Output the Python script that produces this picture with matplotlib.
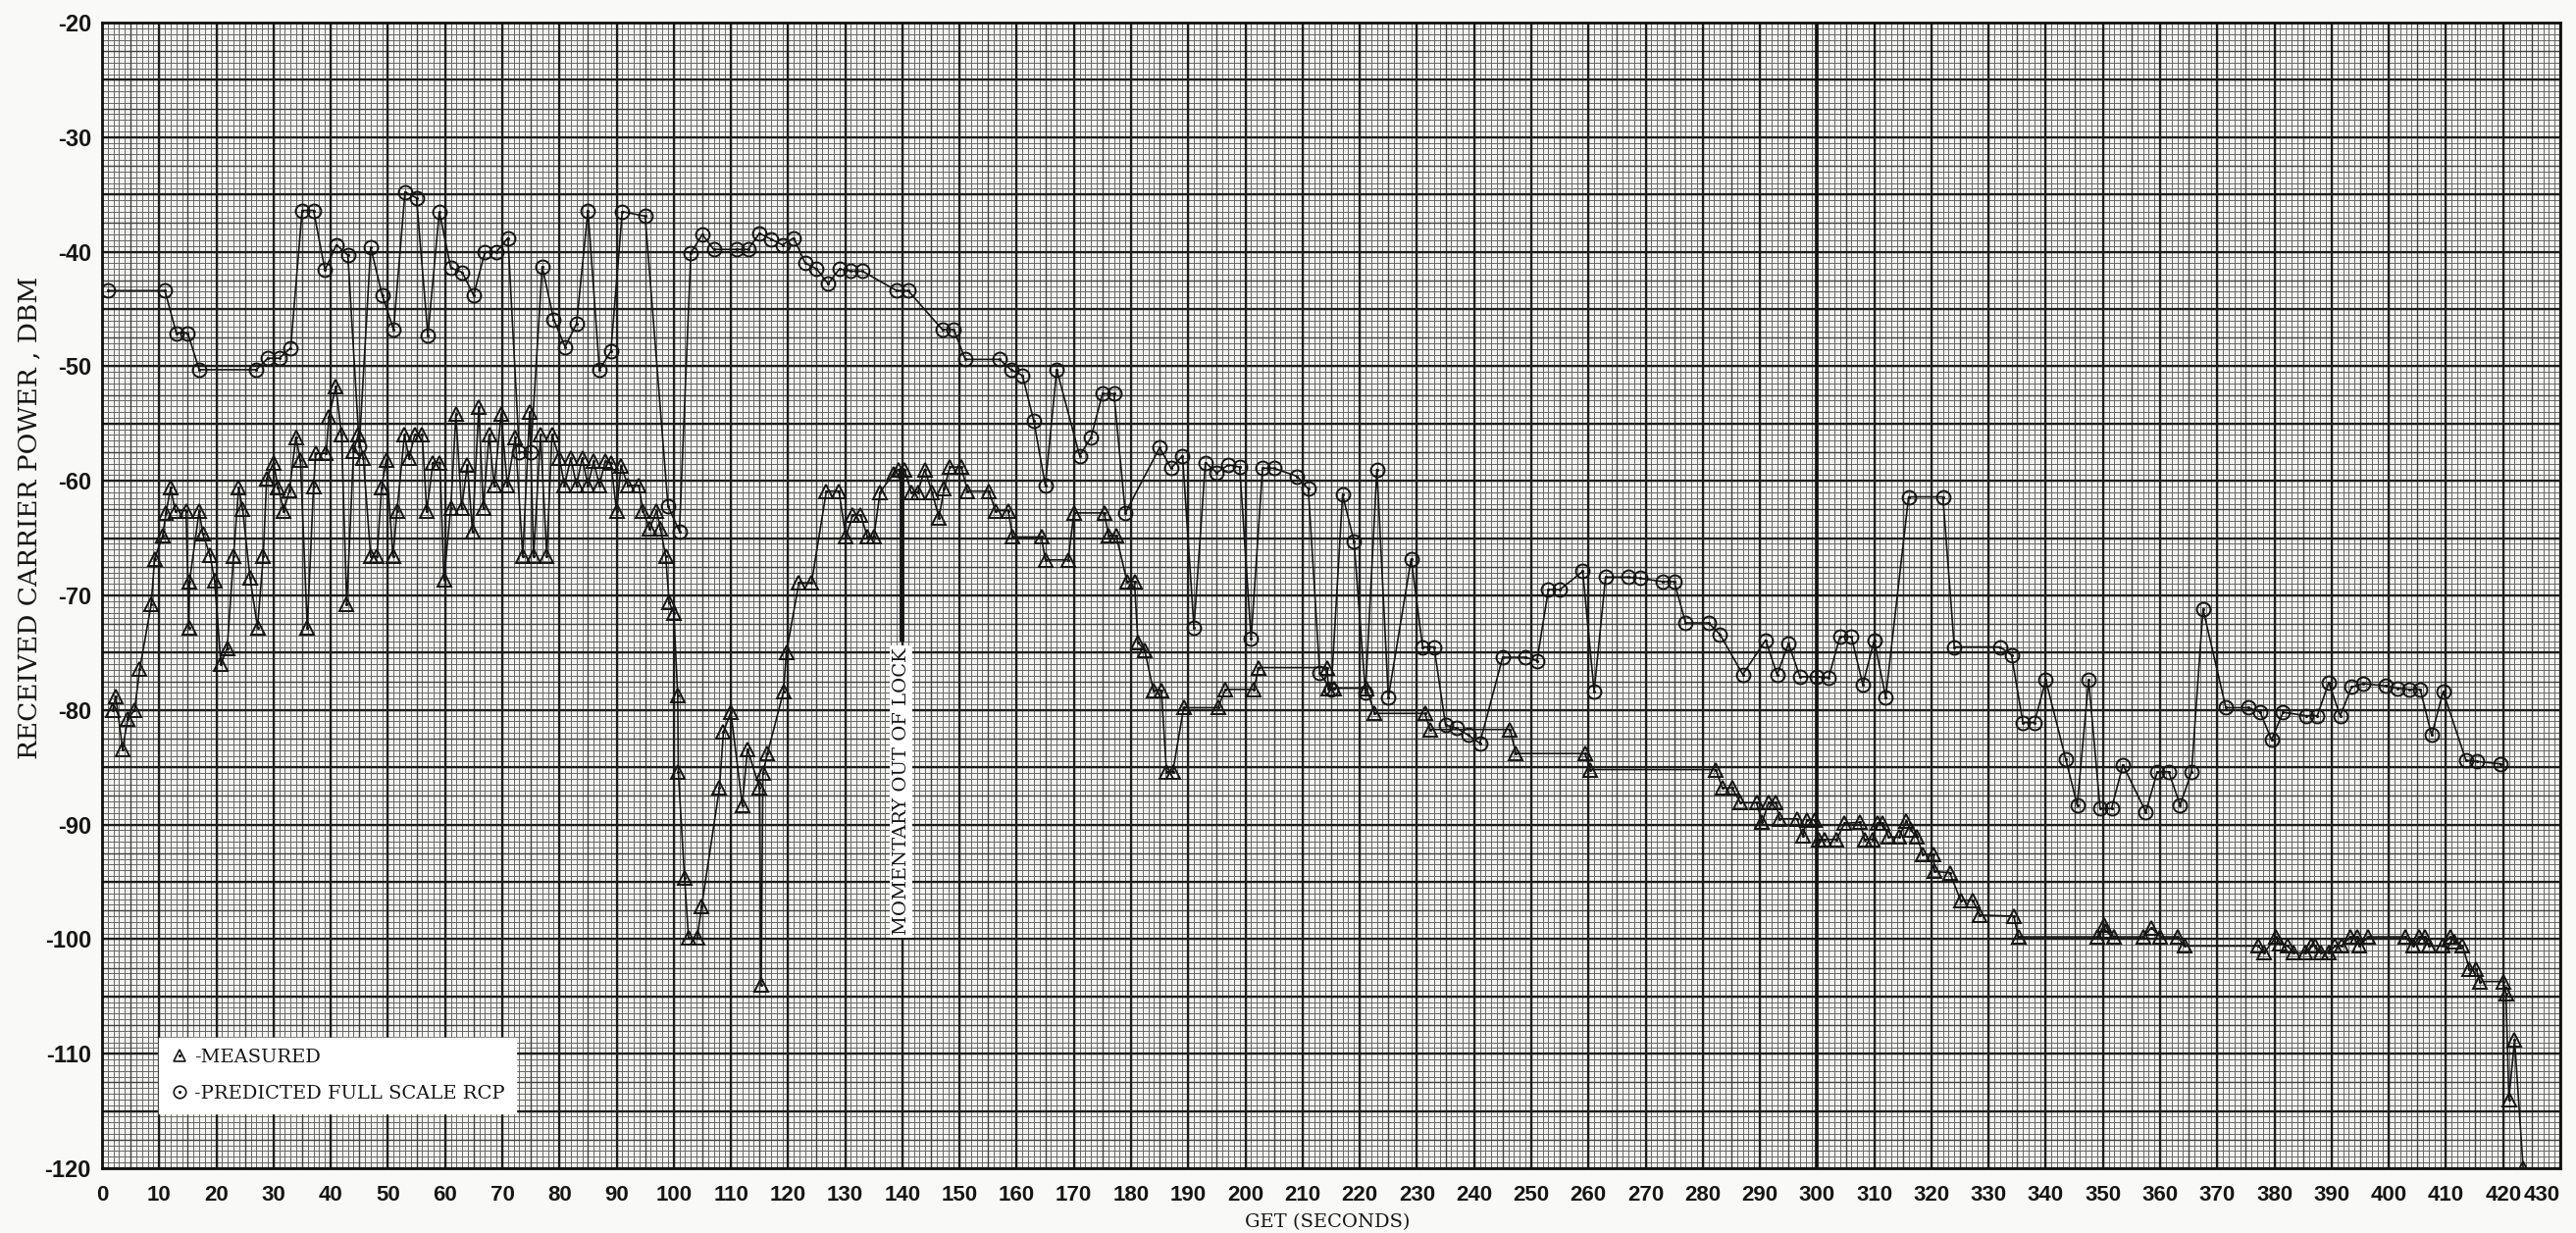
import numpy as np
import matplotlib
matplotlib.use("Agg")
import matplotlib.pyplot as plt
import matplotlib.transforms as mtransforms
from matplotlib.lines import Line2D
from matplotlib.legend_handler import HandlerTuple

# ---- data (GET seconds, dBm) ----
measured_t = [
    1.9, 2.4, 3.6, 4.5, 5.7, 6.6, 8.6, 9.2, 10.6, 11.2, 12.0, 12.8, 14.7, 15.2, 15.3,
    17.0, 17.6, 18.9, 19.7, 20.8, 21.9, 23.0, 23.9, 24.6, 25.9, 27.2, 28.2, 28.8, 30.0,
    30.8, 31.8, 32.8, 33.9, 34.7, 35.9, 37.0, 37.4, 39.2, 39.7, 40.9, 41.9, 42.8, 44.0,
    44.8, 45.7, 47.0, 48.1, 48.9, 49.7, 50.9, 51.6, 52.9, 53.7, 54.7, 56.0, 56.8, 57.9,
    59.1, 59.8, 61.0, 61.9, 62.9, 63.9, 64.8, 65.9, 66.7, 67.7, 68.6, 69.8, 70.9, 72.3,
    73.6, 74.8, 75.5, 76.7, 77.8, 78.7, 80.0, 80.9, 82.0, 83.0, 84.0, 85.0, 86.0, 87.0,
    88.0, 89.0, 90.0, 90.8, 92.0, 93.9, 94.6, 95.8, 97.0, 97.7, 98.6, 99.2, 100.0,
    100.7, 100.8, 101.9, 102.6, 104.1, 104.9, 108.0, 108.7, 110.0, 112.0, 112.9, 115.0,
    115.3, 115.6, 116.4, 119.2, 119.7, 121.9, 124.1, 126.7, 128.9, 130.1, 131.3, 132.7,
    133.9, 135.0, 136.1, 138.4, 139.3, 140.4, 141.5, 142.7, 143.9, 145.2, 146.4, 147.3,
    148.3, 150.3, 151.4, 155.1, 156.3, 158.5, 159.3, 164.3, 165.0, 169.0, 170.0, 175.3,
    176.1, 177.4, 179.3, 180.6, 181.2, 182.4, 183.9, 185.3, 186.2, 187.3, 189.2, 195.2,
    196.5, 201.5, 202.3, 214.3, 214.5, 215.5, 221.2, 222.6, 231.4, 232.3, 246.3, 247.3,
    259.4, 260.3, 282.3, 283.4, 285.1, 286.6, 289.4, 290.4, 291.5, 292.8, 293.4, 296.5,
    297.5, 298.2, 299.6, 300.3, 301.3, 303.4, 304.8, 307.5, 308.3, 309.7, 310.5, 311.5,
    312.5, 314.3, 315.6, 316.4, 317.5, 318.5, 320.4, 320.5, 323.2, 325.1, 327.2, 328.5,
    334.4, 335.2, 349.0, 350.2, 350.4, 352.0, 357.0, 358.5, 360.0, 363.1, 364.2, 377.2,
    378.2, 380.3, 381.0, 382.3, 383.4, 385.4, 386.4, 387.1, 388.2, 389.5, 390.6, 391.7,
    393.3, 394.5, 394.9, 396.4, 402.9, 404.3, 405.3, 406.3, 407.0, 409.4, 410.7, 411.5,
    412.9, 414.1, 415.3, 415.9, 420.0, 420.5, 421.0, 422.0, 423.5,
]
measured_dbm = [
    -80.0, -78.8, -83.4, -80.8, -80.0, -76.4, -70.8, -66.8, -64.8, -62.8, -60.6, -62.6, -62.6, -72.8, -68.8,
    -62.6, -64.6, -66.5, -68.7, -76.0, -74.6, -66.6, -60.6, -62.5, -68.5, -72.8, -66.6, -59.8, -58.4,
    -60.6, -62.6, -60.8, -56.2, -58.2, -72.8, -60.5, -57.6, -57.6, -54.4, -51.8, -56.0, -70.8, -57.4,
    -56.0, -58.0, -66.6, -66.6, -60.6, -58.2, -66.6, -62.6, -56.0, -58.0, -56.0, -56.0, -62.6, -58.4,
    -58.4, -68.6, -62.4, -54.2, -62.4, -58.6, -64.4, -53.6, -62.4, -56.0, -60.4, -54.2, -60.4, -56.2,
    -66.6, -54.0, -66.6, -56.0, -66.6, -56.0, -58.0, -60.4, -58.0, -60.4, -58.0, -60.4, -58.3, -60.4,
    -58.3, -58.4, -62.6, -58.7, -60.4, -60.4, -62.6, -64.2, -62.6, -64.2, -66.6, -70.6, -71.5,
    -78.7, -85.4, -94.7, -99.9, -99.9, -97.1, -86.8, -81.9, -80.2, -88.3, -83.4, -86.8,
    -104.0, -85.5, -83.8, -78.4, -75.0, -68.9, -68.9, -60.9, -60.9, -64.9, -63.0, -63.0,
    -64.9, -64.9, -61.0, -59.4, -59.0, -59.0, -61.0, -61.0, -59.0, -61.0, -63.2, -60.7,
    -58.8, -58.8, -60.9, -60.9, -62.6, -62.6, -64.9, -64.9, -66.9, -66.9, -62.8, -62.8,
    -64.8, -64.8, -68.8, -68.8, -74.1, -74.8, -78.3, -78.3, -85.4, -85.4, -79.8, -79.8,
    -78.2, -78.2, -76.3, -76.3, -78.1, -78.1, -78.1, -80.3, -80.3, -81.7, -81.7, -83.8,
    -83.8, -85.2, -85.2, -86.8, -86.8, -88.1, -88.1, -89.8, -88.1, -88.1, -89.5, -89.5,
    -91.0, -89.6, -89.6, -91.3, -91.3, -91.3, -89.9, -89.8, -91.3, -91.3, -89.9, -89.9,
    -91.1, -91.1, -89.7, -90.5, -91.1, -92.6, -92.6, -94.1, -94.2, -96.6, -96.6, -97.9,
    -98.0, -99.8, -99.8, -98.8, -99.3, -99.8, -99.8, -99.0, -99.8, -99.8, -100.6, -100.6,
    -101.2, -99.8, -100.4, -100.6, -101.2, -101.2, -100.6, -100.6, -101.2, -101.2, -100.6, -100.6,
    -99.8, -99.8, -100.6, -99.8, -99.8, -100.6, -99.8, -99.8, -100.6, -100.6, -99.8, -100.2,
    -100.6, -102.6, -102.6, -103.7, -103.7, -104.8, -114.0, -108.8, -120.0,
]

predicted_t = [
    1, 11, 13, 15, 17, 27, 29, 31, 33, 35, 37, 39, 41, 43, 45, 47, 49, 51, 53, 55,
    57, 59, 61, 63, 65, 67, 69, 71, 73, 75, 77, 79, 81, 83, 85, 87, 89, 91, 95, 99,
    101, 103, 105, 107, 111, 113, 115, 117, 119, 121, 123, 125, 127, 129, 131, 133, 139, 141, 147, 149,
    151, 157, 159, 161, 163, 165, 167, 171, 173, 175, 177, 179, 185, 187, 189, 191, 193, 195, 197, 199,
    201, 203, 205, 209, 211, 213, 215, 217, 219, 221, 223, 225, 229, 231, 233, 235, 237, 239, 241, 245,
    249, 251, 253, 255, 259, 261, 263, 267, 269, 273, 275, 277, 281, 283, 287, 291, 293, 295, 297, 300,
    302, 304, 306, 308, 310, 312, 316, 322, 324, 332, 334, 336, 338, 340, 343.5, 345.5, 347.5, 349.5,
    351.5, 353.5, 357.5, 359.5, 361.5, 363.5, 365.5, 367.5, 371.5, 375.5, 377.5, 379.5, 381.5, 385.5,
    387.5, 389.5, 391.5, 393.5, 395.5, 399.5, 401.5, 403.5, 405.5, 407.5, 409.5, 413.5, 415.5, 419.5,
]
predicted_dbm = [
    -43.4, -43.4, -47.1, -47.1, -50.3, -50.3, -49.3, -49.3, -48.4, -36.4, -36.4, -41.6, -39.4, -40.3, -57.0, -39.6, -43.8, -46.8, -34.8, -35.3,
    -47.3, -36.5, -41.4, -41.8, -43.8, -40.0, -40.0, -38.8, -57.5, -57.5, -41.3, -45.9, -48.3, -46.3, -36.4, -50.3, -48.7, -36.5, -36.9, -62.2,
    -64.4, -40.1, -38.5, -39.8, -39.8, -39.8, -38.4, -38.9, -39.4, -38.8, -41.0, -41.5, -42.8, -41.5, -41.7, -41.7, -43.4, -43.4, -46.8, -46.8,
    -49.4, -49.4, -50.3, -50.8, -54.8, -60.4, -50.3, -57.8, -56.2, -52.4, -52.4, -62.8, -57.1, -58.9, -57.8, -72.8, -58.4, -59.3, -58.6, -58.8,
    -73.8, -58.9, -58.9, -59.6, -60.7, -76.8, -78.2, -61.2, -65.3, -78.5, -59.0, -78.9, -66.8, -74.5, -74.5, -81.3, -81.6, -82.2, -82.9, -75.4,
    -75.4, -75.7, -69.5, -69.5, -67.9, -78.4, -68.4, -68.4, -68.5, -68.8, -68.8, -72.4, -72.4, -73.4, -76.9, -73.9, -76.9, -74.2, -77.1, -77.1,
    -77.2, -73.6, -73.6, -77.8, -73.9, -78.9, -61.4, -61.4, -74.5, -74.5, -75.2, -81.1, -81.1, -77.4, -84.3, -88.3, -77.4, -88.6,
    -88.6, -84.8, -88.9, -85.4, -85.4, -88.3, -85.4, -71.2, -79.8, -79.8, -80.2, -82.6, -80.2, -80.5,
    -80.5, -77.6, -80.5, -78.0, -77.7, -77.9, -78.1, -78.2, -78.2, -82.2, -78.4, -84.4, -84.5, -84.7,
]

x_ticks = list(range(0, 431, 10))
y_ticks = list(range(-120, -19, 10))
lock_t, lock_top, lock_bottom = 139.8, -59.0, -73.8

W, H = 2626, 1257
fig = plt.figure(figsize=(W / 100, H / 100), dpi=100, facecolor="#f9f9f7")
ax = fig.add_axes([104 / W, 1 - 1191 / H, 2506 / W, 1168 / H])
ax.set_facecolor("#f4f4f0")
ax.set_xlim(0, 430)
ax.set_ylim(-120, -20)


# graph-paper grid
def vgrid(step, lw, col):
    ax.vlines(np.arange(0, 430.01, step), -120, -20, colors=col, linewidth=lw, zorder=0.5)


def hgrid(step, lw, col):
    ax.hlines(np.arange(-120, -19.99, step), 0, 430, colors=col, linewidth=lw, zorder=0.5)


vgrid(1, 0.7, "#666666")
hgrid(0.5, 0.7, "#666666")
vgrid(5, 1.0, "#404040")
hgrid(2.5, 1.0, "#404040")
vgrid(10, 1.6, "#1c1c1c")
hgrid(5, 1.6, "#1c1c1c")
ax.axvline(300, color="#111111", linewidth=2.6, zorder=0.6)

ink = "#151515"
ax.plot(measured_t, measured_dbm, color=ink, linewidth=1.2, zorder=3)
ax.plot(predicted_t, predicted_dbm, color=ink, linewidth=1.2, zorder=3)
ax.plot(measured_t, measured_dbm, linestyle="none", marker="^", markersize=10,
        markerfacecolor="none", markeredgecolor=ink, markeredgewidth=1.4, zorder=4)
ax.plot(predicted_t, predicted_dbm, linestyle="none", marker="o", markersize=10,
        markerfacecolor="none", markeredgecolor=ink, markeredgewidth=1.4, zorder=4)
ax.plot(measured_t, measured_dbm, linestyle="none", marker=".", markersize=2.5, color=ink, zorder=5)
ax.plot(predicted_t, predicted_dbm, linestyle="none", marker=".", markersize=2.5, color=ink, zorder=5)

# momentary out of lock
ax.plot([lock_t, lock_t], [lock_top, lock_bottom], color=ink, linewidth=3.5, zorder=3)
ax.text(lock_t, (lock_bottom + -99.8) / 2 - 0.3, "MOMENTARY OUT OF LOCK", rotation=90,
        ha="center", va="center", fontsize=14, family="DejaVu Serif", color=ink,
        bbox=dict(facecolor="white", edgecolor="none", pad=2), zorder=6)

# legend
tri = Line2D([], [], linestyle="none", marker="^", markersize=9, markerfacecolor="none",
             markeredgecolor=ink, markeredgewidth=1.2)
circ = Line2D([], [], linestyle="none", marker="o", markersize=9, markerfacecolor="none",
              markeredgecolor=ink, markeredgewidth=1.2)
dot = Line2D([], [], linestyle="none", marker=".", markersize=2.5, color=ink)
leg = ax.legend([(tri, dot), (circ, dot)], ["-MEASURED", "-PREDICTED FULL SCALE RCP"],
                handler_map={tuple: HandlerTuple(ndivide=1)},
                loc="lower left", bbox_to_anchor=(10 / 430, 4.8 / 100), frameon=True,
                fancybox=False, edgecolor="white", framealpha=1, facecolor="white",
                prop=dict(family="DejaVu Serif", size=14), handlelength=1.0,
                handletextpad=0.3, labelspacing=1.0, borderpad=0.55, borderaxespad=0)
leg.set_zorder(7)
for t in leg.get_texts():
    t.set_color(ink)

ax.set_xticks(x_ticks)
ax.set_yticks(y_ticks)
tick_font = ["Liberation Sans", "DejaVu Sans"]
xl = ax.set_xticklabels([str(v) for v in x_ticks], family=tick_font, fontsize=16, fontweight="bold", color=ink)
ax.set_yticklabels([str(v) for v in y_ticks], family=tick_font, fontsize=17, fontweight="bold", color=ink)
# last label sits against the right edge of the sheet
xl[-1].set_horizontalalignment("right")
xl[-1].set_transform(xl[-1].get_transform() + mtransforms.ScaledTranslation(14 / 100, 0, fig.dpi_scale_trans))
ax.tick_params(axis="both", length=0)
ax.tick_params(axis="x", pad=12)
ax.tick_params(axis="y", pad=8)
for s in ax.spines.values():
    s.set_linewidth(2.0)
    s.set_color("#111111")

fig.text(30 / W, 1 - 528 / H, "RECEIVED CARRIER POWER , DBM", rotation=90, ha="center", va="center",
         fontsize=19, family="DejaVu Serif", color=ink)
fig.text(1353 / W, 1 - 1246 / H, "GET (SECONDS)", ha="center", va="center",
         fontsize=14, family="DejaVu Serif", color=ink)

fig.savefig("out.png", dpi=100, facecolor=fig.get_facecolor())
